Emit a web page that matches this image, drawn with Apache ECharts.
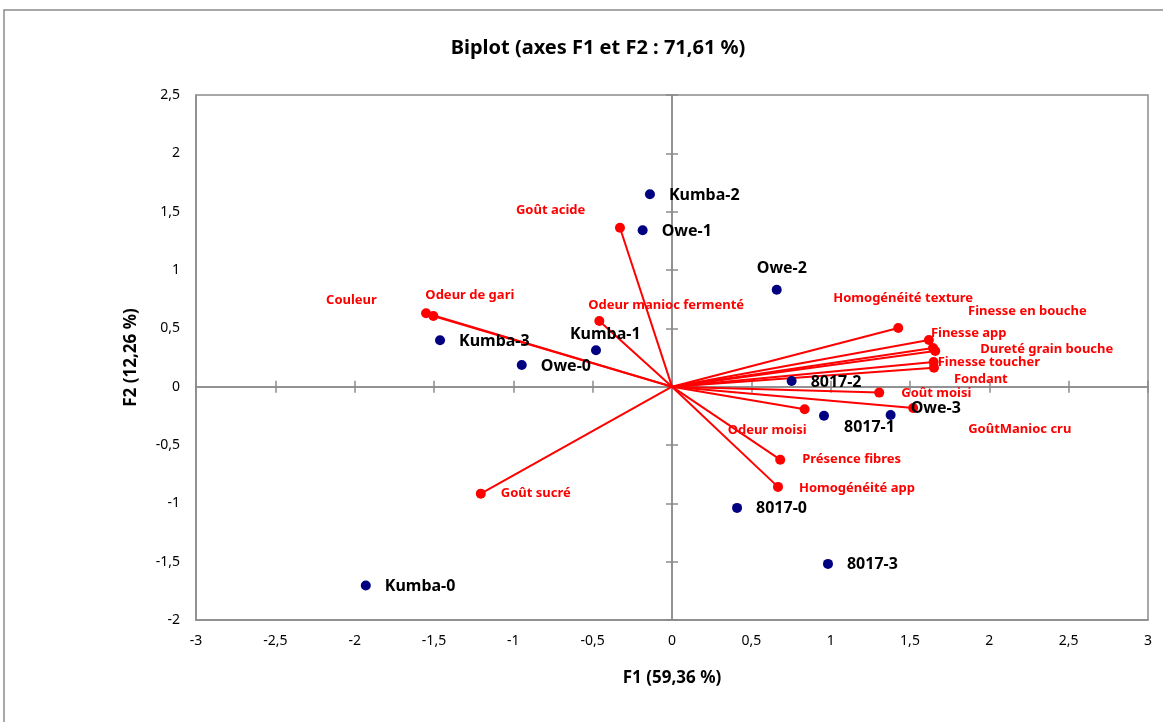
<!DOCTYPE html>
<html>
<head>
<meta charset="utf-8">
<script src="https://cdn.jsdelivr.net/npm/echarts@6/dist/echarts.min.js"></script>
<style>
  html, body { margin: 0; padding: 0; background: #fff; }
  #chart { width: 1163px; height: 722px; }
</style>
</head>
<body>
<div id="chart"></div>
<script>
// observations (blue)
var obsNames = ["Kumba-0", "Kumba-1", "Kumba-2", "Kumba-3", "Owe-0", "Owe-1", "Owe-2", "Owe-3", "8017-0", "8017-1", "8017-2", "8017-3"];
var obsF1 = [-1.93, -0.479, -0.139, -1.462, -0.947, -0.185, 0.66, 1.378, 0.41, 0.958, 0.754, 0.983];
var obsF2 = [-1.705, 0.312, 1.649, 0.398, 0.186, 1.34, 0.831, -0.243, -1.039, -0.249, 0.049, -1.519];

// variables (red vectors)
var varNames = ["Couleur", "Odeur de gari", "Goût acide", "Odeur manioc fermenté", "Goût sucré", "Homogénéité texture", "Finesse app", "Finesse en bouche", "Dureté grain bouche", "Finesse toucher", "Fondant", "Goût moisi", "GoûtManioc cru", "Odeur moisi", "Présence fibres", "Homogénéité app"];
var varF1 = [-1.55, -1.504, -0.328, -0.458, -1.205, 1.426, 1.619, 1.645, 1.659, 1.649, 1.651, 1.306, 1.52, 0.836, 0.682, 0.668];
var varF2 = [0.629, 0.606, 1.362, 0.563, -0.917, 0.503, 0.4, 0.332, 0.306, 0.212, 0.163, -0.051, -0.183, -0.194, -0.626, -0.859];

// axis ticks
var xTicks = [-3, 3, 0.5];
var yTicks = [-2, 2.5, 0.5];

// label placement (pixels from the point to the start of the text)
var obsLabelOffset = {
  "Kumba-1": [-26, -16],
  "Owe-2": [-20, -21],
  "Owe-3": [20, -7],
  "8017-1": [20, 12]
};
var varLabelOffset = {
  "Couleur": [-100, -13],
  "Odeur de gari": [-8, -21],
  "Goût acide": [-104, -17],
  "Odeur manioc fermenté": [-11, -16],
  "Goût sucré": [20, 0],
  "Homogénéité texture": [-65, -30],
  "Finesse app": [2, -7],
  "Finesse en bouche": [35, -37],
  "Dureté grain bouche": [45, -2],
  "Finesse toucher": [4, 0],
  "Fondant": [20, 12],
  "Goût moisi": [22, 1],
  "GoûtManioc cru": [55, 21],
  "Odeur moisi": [-77, 21],
  "Présence fibres": [22, 0],
  "Homogénéité app": [21, 1]
};

var FONT = "Noto Sans";
var comma = function (v) { return String(v).replace(".", ","); };

var myChart = echarts.init(document.getElementById("chart"));

var obsData = [];
for (var i = 0; i < obsNames.length; i++) {
  obsData.push({
    name: obsNames[i],
    value: [obsF1[i], obsF2[i]],
    label: { offset: obsLabelOffset[obsNames[i]] || [19, 1] }
  });
}
var varData = [];
var vecData = [];
for (var j = 0; j < varNames.length; j++) {
  varData.push({
    name: varNames[j],
    value: [varF1[j], varF2[j]],
    label: { offset: varLabelOffset[varNames[j]] || [20, 0] }
  });
  vecData.push({ coords: [[0, 0], [varF1[j], varF2[j]]] });
}

// axes drawn through the origin, ticks crossing the line (one axis per side)
function zeroAxis(dim, pos) {
  return {
    type: "value",
    min: dim === "x" ? xTicks[0] : yTicks[0],
    max: dim === "x" ? xTicks[1] : yTicks[1],
    interval: dim === "x" ? xTicks[2] : yTicks[2],
    position: pos,
    axisLine: { onZero: true, onZeroAxisIndex: 0, lineStyle: { color: "#8c8c8c", width: 1.5 } },
    axisTick: { show: true, inside: false, length: 6, lineStyle: { color: "#8c8c8c", width: 1.5 } },
    axisLabel: { show: false },
    splitLine: { show: false }
  };
}

var option = {
  animation: false,
  textStyle: { fontFamily: FONT },
  title: {
    text: "Biplot (axes F1 et F2 : 71,61 %)",
    left: 593,
    top: 33,
    textAlign: "center",
    textStyle: { fontFamily: FONT, fontSize: 20, fontWeight: "bold", color: "#000" }
  },
  graphic: [{
    type: "rect",
    shape: { x: 4, y: 10, width: 1300, height: 900 },
    style: { fill: "none", stroke: "#8c8c8c", lineWidth: 1.5 },
    silent: true
  }],
  grid: { left: 196, right: 15, top: 95, bottom: 102, show: true, borderColor: "#8c8c8c", borderWidth: 1.5 },
  xAxis: [
    {
      type: "value", min: xTicks[0], max: xTicks[1], interval: xTicks[2], position: "bottom",
      name: "F1 (59,36 %)", nameLocation: "middle", nameGap: 50,
      nameTextStyle: { fontFamily: FONT, fontSize: 17, fontWeight: "bold", color: "#000" },
      axisLine: { onZero: false, lineStyle: { color: "#8c8c8c", width: 1.5 } },
      axisTick: { show: false },
      axisLabel: { margin: 14, fontSize: 14, color: "#000", formatter: comma },
      splitLine: { show: false }
    },
    zeroAxis("x", "bottom"),
    zeroAxis("x", "top")
  ],
  yAxis: [
    {
      type: "value", min: yTicks[0], max: yTicks[1], interval: yTicks[2], position: "left",
      name: "F2 (12,26 %)", nameLocation: "middle", nameGap: 56, nameRotate: 90,
      nameTextStyle: { fontFamily: FONT, fontSize: 17, fontWeight: "bold", color: "#000" },
      axisLine: { onZero: false, lineStyle: { color: "#8c8c8c", width: 1.5 } },
      axisTick: { show: false },
      axisLabel: { margin: 16, fontSize: 14, color: "#000", formatter: comma },
      splitLine: { show: false }
    },
    zeroAxis("y", "left"),
    zeroAxis("y", "right")
  ],
  series: [
    {
      name: "vectors",
      type: "lines",
      coordinateSystem: "cartesian2d",
      xAxisIndex: 0, yAxisIndex: 0,
      lineStyle: { color: "#ff0000", width: 2, opacity: 1 },
      silent: true,
      data: vecData,
      z: 3
    },
    {
      name: "Variables",
      type: "scatter",
      xAxisIndex: 0, yAxisIndex: 0,
      symbolSize: 10,
      itemStyle: { color: "#ff0000", opacity: 1 },
      label: {
        show: true, position: "inside", align: "left", verticalAlign: "middle",
        formatter: "{b}", fontFamily: FONT, fontSize: 13, fontWeight: "bold", color: "#ff0000"
      },
      data: varData,
      z: 4
    },
    {
      name: "Observations",
      type: "scatter",
      xAxisIndex: 0, yAxisIndex: 0,
      symbolSize: 10,
      itemStyle: { color: "#000080", opacity: 1 },
      label: {
        show: true, position: "inside", align: "left", verticalAlign: "middle",
        formatter: "{b}", fontFamily: FONT, fontSize: 16, fontWeight: "bold", color: "#000"
      },
      data: obsData,
      z: 5
    }
  ]
};

myChart.setOption(option);
</script>
</body>
</html>
